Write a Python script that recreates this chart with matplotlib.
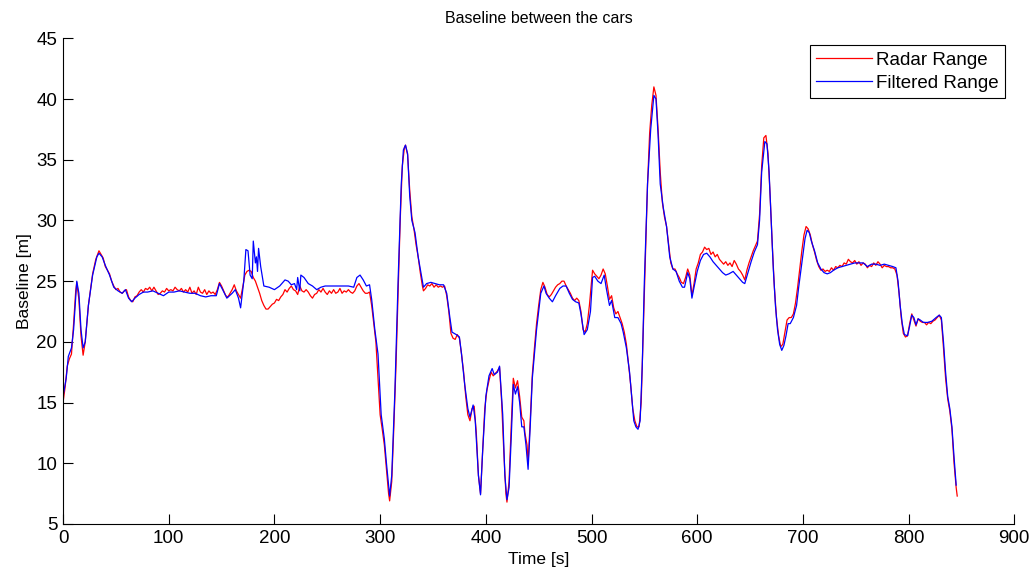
import matplotlib.pyplot as plt

plt.rcParams['font.family'] = ['Liberation Sans', 'DejaVu Sans']

# Radar range (red)
radar_t = [0, 2, 4, 6, 8, 10, 12, 13, 15, 17, 19, 21, 24, 28, 31, 34, 36, 38, 40, 42, 44, 46, 48, 50,
           52, 54, 56, 58, 60, 62, 64, 66, 68, 70, 72, 74, 76, 78, 80, 82, 84, 86, 88, 90, 92, 94, 96,
           98, 100, 102, 104, 106, 108, 110, 112, 114, 116, 118, 120, 122, 124, 126, 128, 130, 132,
           134, 136, 138, 140, 142, 144, 146, 148, 150, 152, 154, 156, 158, 160, 162, 164, 166, 168,
           170, 172, 174, 176, 178, 180, 182, 184, 186, 188, 190, 192, 194, 196, 198, 200, 202, 204,
           206, 208, 210, 212, 214, 216, 218, 220, 222, 224, 226, 228, 230, 232, 234, 236, 238, 240,
           242, 244, 246, 248, 250, 252, 254, 256, 258, 260, 262, 264, 266, 268, 270, 272, 274, 276,
           278, 280, 282, 284, 286, 288, 290, 292, 294, 296, 298, 300, 302, 304, 306, 308, 309, 311,
           313, 315, 317, 319, 321, 323, 324, 326, 328, 330, 332, 334, 336, 338, 340, 341, 343, 345,
           347, 349, 351, 353, 355, 357, 359, 361, 363, 365, 367, 369, 371, 373, 375, 377, 379, 381,
           383, 385, 387, 389, 391, 393, 395, 397, 399, 401, 403, 405, 407, 409, 411, 413, 415, 417,
           419, 420, 422, 424, 426, 428, 430, 432, 434, 436, 437, 439, 440, 442, 444, 446, 448, 450,
           452, 454, 456, 458, 460, 462, 464, 466, 468, 470, 472, 474, 476, 478, 480, 482, 484, 486,
           488, 490, 492, 494, 496, 498, 500, 501, 503, 505, 507, 509, 511, 513, 515, 517, 519, 521,
           523, 525, 527, 529, 531, 533, 535, 537, 539, 541, 543, 545, 547, 549, 551, 553, 555, 557,
           559, 561, 563, 565, 567, 569, 571, 573, 575, 577, 579, 581, 583, 585, 587, 589, 591, 593,
           595, 597, 599, 601, 603, 605, 607, 609, 611, 613, 615, 617, 619, 621, 623, 625, 627, 629,
           631, 633, 635, 637, 639, 641, 643, 645, 647, 649, 651, 653, 655, 657, 659, 661, 663, 665,
           667, 669, 671, 673, 675, 677, 679, 681, 683, 685, 687, 689, 691, 693, 695, 697, 699, 701,
           703, 705, 707, 709, 711, 713, 715, 717, 719, 721, 723, 725, 727, 729, 731, 733, 735, 737,
           739, 741, 743, 745, 747, 749, 751, 753, 755, 757, 759, 761, 763, 765, 767, 769, 771, 773,
           775, 777, 779, 781, 783, 785, 787, 789, 791, 793, 795, 797, 799, 801, 803, 805, 807, 809,
           811, 813, 815, 817, 819, 821, 823, 825, 827, 829, 831, 833, 835, 837, 839, 841, 843, 845,
           846]
radar_v = [15.0, 16.3, 18.0, 18.6, 19.0, 21.5, 24.2, 24.9, 23.5, 20.5, 18.9, 20.0, 23.0, 25.6, 26.8,
           27.5, 27.2, 26.9, 26.2, 25.9, 25.6, 25.0, 24.6, 24.3, 24.4, 24.1, 24.0, 24.2, 24.3, 23.7,
           23.4, 23.3, 23.7, 23.8, 24.1, 24.3, 24.1, 24.4, 24.3, 24.5, 24.2, 24.5, 24.2, 23.9, 24.0,
           24.2, 24.1, 24.4, 24.2, 24.3, 24.2, 24.5, 24.3, 24.2, 24.4, 24.1, 24.3, 24.1, 24.5, 24.0,
           24.2, 23.9, 24.5, 24.1, 24.0, 24.3, 23.9, 24.2, 24.0, 24.1, 23.9, 24.3, 24.9, 24.6, 24.2,
           23.8, 23.7, 24.0, 24.3, 24.7, 24.2, 23.9, 23.6, 24.5, 25.5, 25.8, 25.9, 25.8, 25.3, 25.0,
           24.5, 24.0, 23.4, 23.0, 22.7, 22.7, 22.9, 23.1, 23.2, 23.5, 23.4, 23.7, 23.9, 24.3, 24.1,
           24.4, 24.6, 24.3, 24.2, 23.9, 24.6, 24.2, 24.1, 24.3, 24.1, 23.8, 23.6, 23.9, 24.0, 24.3,
           24.1, 24.4, 24.1, 23.9, 24.2, 24.0, 24.3, 24.0, 24.1, 24.4, 24.0, 24.2, 24.1, 24.3, 24.1,
           24.0, 24.2, 24.6, 24.8, 24.5, 24.2, 24.0, 24.0, 24.1, 23.0, 21.5, 20.0, 17.0, 14.0, 12.8,
           11.5, 9.5, 7.5, 6.9, 8.5, 13.0, 18.0, 24.0, 30.0, 34.5, 36.0, 36.2, 35.4, 32.5, 30.3, 29.3,
           28.0, 27.0, 25.7, 24.6, 24.2, 24.4, 24.7, 24.6, 24.8, 24.5, 24.7, 24.5, 24.6, 24.5, 24.6,
           23.8, 22.5, 20.7, 20.3, 20.2, 20.6, 20.3, 19.0, 17.5, 15.5, 14.0, 13.5, 14.5, 14.7, 12.5,
           9.0, 7.5, 11.0, 14.5, 16.0, 16.8, 17.5, 17.2, 17.4, 17.6, 17.9, 15.0, 11.0, 7.5, 6.8, 8.5,
           13.0, 17.0, 16.2, 16.8, 15.5, 13.8, 13.5, 12.5, 11.5, 10.0, 13.5, 17.3, 19.5, 21.5, 23.0,
           24.3, 24.9, 24.5, 23.9, 23.7, 23.9, 24.2, 24.5, 24.7, 24.8, 25.0, 25.0, 24.6, 24.3, 24.0,
           23.6, 23.4, 23.6, 23.4, 22.5, 21.0, 20.8, 21.5, 23.0, 25.0, 25.9, 25.6, 25.4, 25.2, 25.5,
           26.0, 25.6, 24.6, 23.5, 23.8, 22.8, 22.3, 22.5, 22.0, 21.5, 20.8, 19.8, 18.2, 16.5, 14.5,
           13.5, 13.0, 13.0, 15.0, 21.0, 27.0, 33.0, 37.2, 39.5, 41.0, 40.3, 37.5, 34.0, 31.5, 30.3,
           29.5, 28.0, 26.5, 26.0, 26.0, 25.6, 25.3, 24.9, 24.8, 25.3, 26.0, 25.5, 23.8, 24.8, 26.0,
           26.5, 27.2, 27.4, 27.8, 27.6, 27.7, 27.2, 27.4, 27.0, 27.2, 26.8, 26.6, 26.4, 26.6, 26.3,
           26.5, 26.2, 26.7, 26.4, 26.0, 25.8, 25.5, 25.1, 25.9, 26.5, 27.0, 27.5, 27.9, 28.3, 30.5,
           34.5, 36.8, 37.0, 35.5, 32.0, 28.0, 24.5, 22.0, 20.5, 19.6, 19.8, 20.8, 21.8, 22.0, 22.0,
           22.3, 23.2, 24.5, 26.0, 27.5, 28.8, 29.5, 29.3, 28.8, 28.0, 27.4, 26.7, 26.2, 25.9, 26.0,
           25.8, 25.9, 25.8, 26.1, 25.9, 26.2, 26.1, 26.3, 26.2, 26.5, 26.4, 26.8, 26.6, 26.5, 26.7,
           26.4, 26.6, 26.3, 26.5, 26.4, 26.1, 26.3, 26.2, 26.5, 26.3, 26.6, 26.4, 26.1, 26.3, 26.2,
           26.2, 26.1, 26.1, 26.0, 25.5, 24.0, 22.0, 20.7, 20.4, 20.5, 21.5, 22.3, 21.8, 21.3, 21.9,
           21.7, 21.6, 21.6, 21.4, 21.6, 21.5, 21.7, 21.8, 22.0, 22.2, 21.8, 19.5, 17.0, 15.3, 14.3,
           12.8, 10.0, 8.0, 7.3]

# Filtered range (blue)
filt_t = [0, 3, 5, 8, 10, 13, 15, 17, 19, 21, 24, 28, 32, 34, 37, 40, 44, 48, 52, 56, 59, 62, 65,
          68, 72, 76, 80, 85, 90, 95, 100, 105, 110, 115, 120, 125, 130, 135, 140, 145, 148, 151,
          155, 160, 163, 166, 168, 171, 173, 175, 177, 179, 180, 182, 183, 184, 185, 187, 190, 195,
          200, 205, 210, 213, 216, 219, 221, 222, 224, 225, 228, 232, 236, 240, 244, 248, 252, 256,
          260, 265, 270, 275, 278, 281, 284, 287, 290, 292, 295, 298, 301, 304, 306, 309, 311, 314,
          317, 320, 322, 324, 326, 328, 330, 333, 336, 338, 341, 344, 348, 352, 356, 360, 363, 366,
          368, 372, 375, 377, 380, 383, 385, 388, 390, 393, 395, 397, 400, 403, 406, 408, 411, 413,
          416, 418, 420, 422, 424, 426, 428, 430, 432, 434, 436, 438, 440, 442, 444, 446, 448, 450,
          452, 455, 457, 460, 463, 466, 470, 473, 476, 479, 482, 485, 488, 490, 493, 496, 499, 501,
          503, 506, 509, 512, 514, 517, 519, 522, 525, 528, 530, 533, 536, 540, 542, 544, 546, 548,
          550, 553, 556, 559, 561, 563, 565, 568, 571, 574, 577, 580, 583, 586, 588, 591, 593, 595,
          597, 600, 603, 606, 609, 612, 615, 618, 621, 624, 627, 630, 634, 637, 640, 643, 645, 648,
          651, 654, 657, 659, 661, 664, 666, 668, 670, 672, 674, 676, 678, 680, 682, 684, 686, 688,
          691, 694, 696, 699, 702, 704, 706, 708, 711, 714, 717, 720, 723, 726, 729, 733, 737, 741,
          745, 749, 753, 757, 761, 765, 769, 773, 777, 781, 785, 788, 790, 792, 794, 796, 799, 801,
          803, 805, 807, 809, 811, 814, 818, 822, 826, 829, 831, 833, 835, 837, 839, 841, 843, 845]
filt_v = [15.5, 17.0, 18.8, 19.5, 21.0, 25.0, 24.0, 21.0, 19.5, 20.0, 23.0, 25.5, 27.0, 27.3, 27.0,
          26.3, 25.5, 24.5, 24.2, 24.0, 24.3, 23.6, 23.3, 23.6, 23.9, 24.1, 24.1, 24.2, 24.0, 23.8,
          24.1, 24.1, 24.2, 24.1, 24.0, 24.0, 23.8, 23.7, 23.8, 23.8, 24.8, 24.3, 23.6, 24.0, 24.3,
          23.6, 22.8, 25.0, 27.6, 27.5, 25.5, 25.2, 28.3, 26.5, 27.0, 25.8, 27.7, 26.2, 24.6, 24.5,
          24.3, 24.6, 25.1, 25.0, 24.7, 24.8, 24.3, 25.3, 24.2, 25.5, 25.3, 24.8, 24.6, 24.3, 24.5,
          24.6, 24.6, 24.6, 24.6, 24.6, 24.6, 24.5, 25.3, 25.5, 25.1, 24.6, 24.7, 23.5, 21.0, 19.0,
          14.0, 12.0, 10.0, 7.3, 9.0, 16.0, 25.0, 33.0, 35.8, 36.2, 35.5, 32.0, 30.0, 29.0, 27.0,
          26.0, 24.5, 24.8, 24.9, 24.8, 24.7, 24.7, 24.0, 22.0, 20.8, 20.6, 20.4, 19.0, 16.5, 14.5,
          13.8, 14.8, 13.5, 9.0, 7.4, 11.0, 15.5, 17.2, 17.8, 17.3, 17.5, 18.0, 14.0, 9.0, 7.0, 8.0,
          12.0, 16.5, 15.7, 16.3, 15.0, 13.0, 13.0, 11.5, 9.5, 13.0, 17.0, 19.0, 21.0, 22.5, 24.0,
          24.6, 24.0, 23.6, 23.3, 23.8, 24.4, 24.6, 24.6, 24.0, 23.5, 23.3, 23.2, 22.3, 20.6, 21.0,
          22.5, 25.3, 25.4, 25.0, 24.8, 25.5, 24.4, 23.0, 23.4, 22.0, 22.0, 21.5, 20.8, 19.5, 17.5,
          13.5, 13.0, 12.8, 13.5, 18.0, 25.0, 33.0, 37.5, 40.3, 40.0, 37.0, 33.0, 31.0, 29.5, 27.0,
          26.0, 25.8, 25.0, 24.5, 24.5, 25.7, 25.2, 23.6, 24.5, 25.8, 26.7, 27.2, 27.3, 27.0, 26.6,
          26.3, 26.0, 25.7, 25.5, 25.6, 25.8, 25.5, 25.2, 24.9, 24.8, 25.7, 26.6, 27.4, 28.0, 30.0,
          34.0, 36.5, 36.3, 34.0, 30.0, 26.0, 23.0, 21.0, 19.8, 19.3, 19.7, 20.5, 21.5, 21.5, 22.0,
          23.0, 24.5, 26.5, 28.5, 29.2, 29.0, 28.3, 27.5, 26.5, 26.0, 25.7, 25.6, 25.7, 25.9, 26.1,
          26.2, 26.3, 26.4, 26.5, 26.5, 26.5, 26.2, 26.4, 26.4, 26.3, 26.4, 26.3, 26.2, 26.1, 25.0,
          23.0, 21.5, 20.6, 20.5, 21.3, 22.2, 22.0, 21.4, 21.9, 21.8, 21.6, 21.6, 21.7, 22.0, 22.2,
          22.0, 20.0, 17.5, 15.5, 14.5, 13.0, 10.5, 8.2]

fig = plt.figure(figsize=(10.35, 5.77), dpi=100)
ax = fig.add_axes([0.0609, 0.0919, 0.9191, 0.8417])

ax.plot(radar_t, radar_v, color='red', lw=0.9, label='Radar Range')
ax.plot(filt_t, filt_v, color='blue', lw=0.9, label='Filtered Range')

ax.set_xlim(0, 900)
ax.set_ylim(5, 45)
ax.set_xticks(range(0, 901, 100))
ax.set_yticks(range(5, 46, 5))
ax.tick_params(direction='in', length=7, labelsize=13.5, width=0.8)
ax.tick_params(axis='x', pad=4)
ax.tick_params(axis='y', pad=4)
for s in ['top', 'right']:
    ax.spines[s].set_visible(False)

ax.set_xlabel('Time [s]', fontsize=12.5, labelpad=4)
ax.set_ylabel('Baseline [m]', fontsize=12.5, labelpad=3)
ax.set_title('Baseline between the cars', fontsize=11.5, pad=11)

leg = ax.legend(loc='upper right', bbox_to_anchor=(0.9905, 0.986), borderaxespad=0,
                fontsize=13.5, fancybox=False, edgecolor='black', framealpha=1,
                handlelength=3.0, borderpad=0.35, labelspacing=0.3, handletextpad=0.2)
leg.get_frame().set_linewidth(0.8)

fig.savefig('out.png', dpi=100)
